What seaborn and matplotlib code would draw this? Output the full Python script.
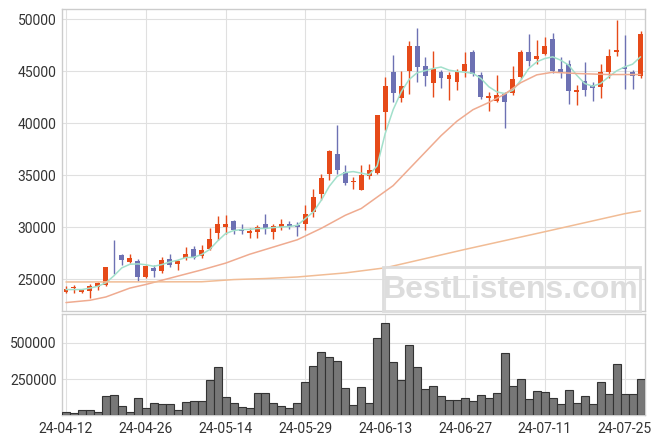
import numpy as np
import matplotlib
matplotlib.use("Agg")
import matplotlib.pyplot as plt
from matplotlib.patches import Rectangle
import seaborn as sns

# ---------------- data ----------------
tick_pos = [0, 10, 20, 30, 40, 50, 60, 70]
tick_labels = ['24-04-12', '24-04-26', '24-05-14', '24-05-29',
               '24-06-13', '24-06-27', '24-07-11', '24-07-25']

opens = [23780, 24150, 23780, 23880, 24260, 24420, 26990, 27310, 26660, 26730,
         25220, 26090, 25800, 26920, 26510, 27090, 27950, 27210, 27950, 29450,
         30030, 30580, 29880, 29450, 29550, 30360, 29550, 30030, 30360, 30220,
         30360, 31480, 33240, 35160, 37020, 35320, 34330, 33600, 34930, 35200,
         41090, 44930, 42430, 45030, 47400, 45480, 43880, 44930, 44230, 43970,
         45030, 46860, 44680, 42430, 42180, 42790, 42910, 44450, 46860, 46150,
         46700, 48140, 45190, 45740, 43010, 44040, 43650, 43490, 44930, 46800,
         45410, 44930, 44550]
highs = [24330, 24420, 24110, 24590, 24740, 26220, 28750, 27470, 27470, 26990,
         26350, 26350, 27140, 27470, 26890, 28110, 28170, 28270, 29970, 31060,
         31150, 30740, 30360, 29970, 30260, 31320, 30360, 30770, 30580, 30510,
         32120, 33630, 35160, 37470, 39810, 35960, 34840, 36030, 36060, 40800,
         44450, 46540, 45000, 47910, 49110, 46320, 46950, 45100, 44930, 45250,
         46860, 47020, 44930, 43010, 44680, 43010, 45480, 47020, 48530, 48000,
         48300, 48680, 46380, 46060, 43650, 45890, 43970, 45740, 47090, 49900,
         48460, 45100, 48880]
lows = [23680, 23720, 23680, 23200, 24010, 24360, 25550, 26350, 26600, 24810,
        25160, 25220, 25600, 26180, 25930, 26890, 26990, 27090, 27790, 28750,
        29390, 29390, 29390, 29010, 29010, 29390, 28910, 29710, 29880, 29130,
        29710, 30990, 32600, 34520, 35160, 34040, 33720, 33550, 34680, 35100,
        39390, 42050, 42050, 42790, 43970, 43560, 42530, 43430, 42210, 43170,
        44450, 44520, 42310, 41150, 42050, 39550, 42690, 44230, 45510, 45740,
        46540, 44780, 44300, 41800, 41730, 42600, 42140, 42470, 44300, 46470,
        43270, 43270, 44300]
closes = [24100, 24200, 24010, 24330, 24640, 26150, 26920, 26890, 27020, 25220,
          26250, 25800, 26830, 26410, 26730, 27400, 27090, 27790, 28910, 30290,
          30290, 29710, 29640, 29620, 30030, 29900, 30160, 30360, 30030, 30030,
          31320, 32860, 34780, 37310, 35550, 34300, 34380, 35000, 35550, 40770,
          43560, 42910, 43560, 47400, 45410, 44550, 45190, 44300, 44620, 44900,
          45670, 44710, 42530, 42630, 42690, 42050, 44230, 46860, 45990, 46470,
          47400, 45030, 44930, 43080, 43170, 43170, 43400, 44880, 46440, 47020,
          45190, 44550, 48620]
volumes = [20800, 13900, 36800, 36800, 22900, 134000, 141000, 64600, 22900, 118000,
           50700, 83300, 76400, 76400, 36800, 92400, 99300, 99300, 245000, 333000,
           125000, 83300, 55600, 48600, 153000, 153000, 83300, 62500, 48600, 83300,
           231000, 342000, 437000, 403000, 377000, 187500, 71500, 194400, 83300, 534700,
           638900, 368000, 245100, 488200, 333300, 180500, 201400, 131900, 106200, 106200,
           118000, 99300, 138900, 120100, 152800, 430500, 203500, 250000, 111100, 168700,
           159700, 118000, 76400, 173600, 83300, 131900, 76400, 231300, 145800, 356300,
           145800, 145800, 250000]
ma_short = [24010, 24010, 24010, 24150, 24330, 24660, 25330, 26100, 26440, 26480,
            26400, 26250, 26410, 26660, 26830, 27090, 27110, 27380, 27860, 28680,
            29390, 29680, 29780, 29800, 29880, 29880, 29970, 30030, 30070, 30190,
            30840, 31470, 32600, 33940, 34900, 35260, 35350, 35200, 35050, 35900,
            39000, 41300, 43000, 44200, 44850, 45050, 45250, 45400, 45100, 44980,
            44900, 44800, 44300, 43500, 43010, 42850, 43170, 44130, 45260, 45900,
            46220, 46380, 46060, 45580, 44620, 43820, 43560, 43820, 44450, 45030,
            45410, 45670, 46380]
ma_mid_idx = [0, 3, 5, 8, 10, 12, 14, 17, 20, 23, 26, 29, 32, 35, 37, 39, 41, 43,
              45, 47, 49, 51, 53, 55, 57, 59, 61, 64, 68, 72]
ma_mid_val = [22760, 22980, 23300, 24150, 24500, 24900, 25300, 25900, 26550, 27400,
              28100, 28800, 29900, 31150, 31800, 32900, 34000, 35600, 37200, 38800,
              40200, 41300, 42000, 42800, 43900, 44650, 44900, 44780, 44680, 44680]
ma_long_idx = [0, 17, 21, 25, 29, 33, 35, 40, 50, 60, 70, 72]
ma_long_val = [24740, 24760, 24970, 25070, 25220, 25480, 25610, 26100, 27870, 29570,
               31300, 31570]

# ---------------- style ----------------
sns.set_theme(style="white")
plt.rcParams['font.family'] = ['Roboto', 'DejaVu Sans']

UP = '#E64A19'
DOWN = '#6D71B3'
GRID = '#e0e0e0'
SPINE = '#cccccc'
TXT = '#333333'

W, H = 663, 444
fig = plt.figure(figsize=(W / 100, H / 100), dpi=100)
L, R = 62, 644.5
ax = fig.add_axes([L / W, 1 - 311 / H, (R - L) / W, (311 - 9.3) / H])
axv = fig.add_axes([L / W, 1 - 415.3 / H, (R - L) / W, (415.3 - 313.5) / H])

idx = np.arange(len(closes))
o = np.array(opens); c = np.array(closes)
h = np.array(highs); lo = np.array(lows)
cols = [UP if cc >= oo else DOWN for oo, cc in zip(o, c)]

# candles
ax.vlines(idx, lo, h, colors=cols, lw=1.0, zorder=3)
ax.bar(idx, np.maximum(np.abs(c - o), 70), bottom=np.minimum(o, c), width=0.62,
       color=cols, linewidth=0, zorder=4)

# moving averages
sns.lineplot(x=idx, y=ma_short, ax=ax, color='#A2E0CB', lw=1.1, zorder=5, legend=False)
sns.lineplot(x=ma_mid_idx, y=ma_mid_val, ax=ax, color='#EFAB90', lw=1.1, zorder=5, legend=False)
sns.lineplot(x=ma_long_idx, y=ma_long_val, ax=ax, color='#F1BC95', lw=1.1, zorder=5, legend=False)

ax.set_xlim(-0.5, len(closes) - 0.5)
ax.set_ylim(21950, 50950)
ax.set_yticks(range(25000, 50001, 5000))
ax.set_xticks(tick_pos)
ax.set_xticklabels([])
ax.grid(True, color=GRID, lw=0.8, zorder=0)
ax.set_axisbelow(True)
ax.set_xlabel(''); ax.set_ylabel('')

# volume
sns.barplot(x=idx, y=volumes, ax=axv, native_scale=True, width=1.0, color='#777777',
            edgecolor='#333333', linewidth=0.8, saturation=1, errorbar=None, zorder=3)
axv.set_xlim(-0.5, len(closes) - 0.5)
axv.set_ylim(0, 703000)
axv.set_yticks([250000, 500000])
axv.set_yticklabels(['250000', '500000'])
axv.set_xticks(tick_pos)
axv.set_xticklabels(tick_labels)
axv.grid(True, color=GRID, lw=0.8, zorder=0)
axv.set_axisbelow(True)
axv.set_xlabel(''); axv.set_ylabel('')

for a in (ax, axv):
    for s in a.spines.values():
        s.set_color(SPINE)
        s.set_linewidth(1.0)
    a.tick_params(axis='both', length=0, labelsize=10, labelcolor=TXT)
    a.tick_params(axis='y', pad=4)
axv.tick_params(axis='x', pad=5)

# watermark
fig.patches.append(Rectangle((383 / W, 1 - 311 / H), 257 / W, 44 / H, fill=False,
                             ec='#dddddd', lw=2, transform=fig.transFigure, zorder=2))
fig.text(511 / W, 1 - 290 / H, 'BestListens.com', fontsize=23, fontweight='bold',
         color='#dddddd', family=['Liberation Sans', 'DejaVu Sans'],
         ha='center', va='center', zorder=2)

fig.savefig('out.png', dpi=100)
